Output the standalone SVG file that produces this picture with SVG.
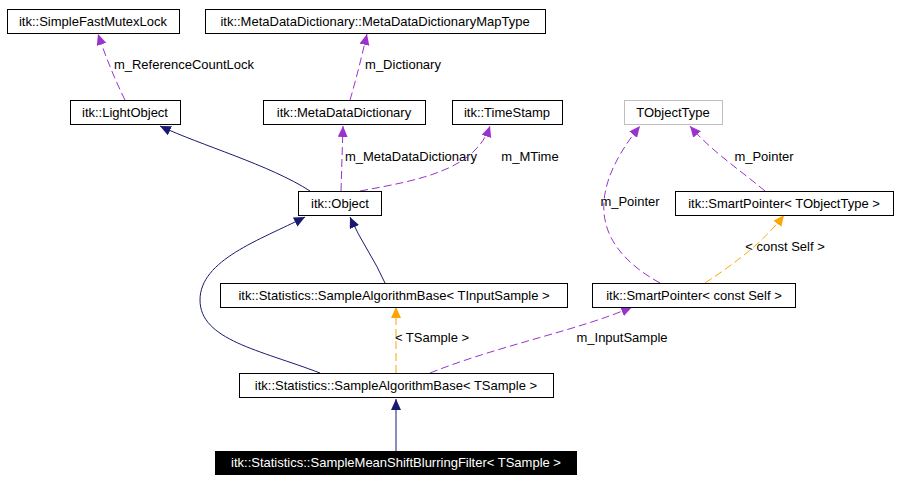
<svg xmlns="http://www.w3.org/2000/svg" width="900" height="482" viewBox="0 0 900 482">
<style>
text{font-family:"Liberation Sans",Arial,sans-serif;font-size:13px;fill:#000}
.n rect{fill:#fff;stroke:#000;stroke-width:1}
.n text{text-anchor:middle}
.e{fill:none;stroke-width:1}
.inh{stroke:#191970}
.use{stroke:#9a32cd;stroke-dasharray:8,4}
.tpl{stroke:#ffa500;stroke-dasharray:8,4}
.lbl{text-anchor:middle}
</style>
<defs>
<marker id="ai" markerWidth="12" markerHeight="12" refX="11" refY="5" orient="auto" markerUnits="userSpaceOnUse"><path d="M0,0 L11,5 L0,10 Z" fill="#191970"/></marker>
<marker id="au" markerWidth="12" markerHeight="12" refX="11" refY="5" orient="auto" markerUnits="userSpaceOnUse"><path d="M0,0 L11,5 L0,10 Z" fill="#9a32cd"/></marker>
<marker id="at" markerWidth="12" markerHeight="12" refX="11" refY="5" orient="auto" markerUnits="userSpaceOnUse"><path d="M0,0 L11,5 L0,10 Z" fill="#ffa500"/></marker>
</defs>
<rect width="900" height="482" fill="#fff"/>
<g id="connectors">
<path class="e use" d="M125,100 C115,80 105,55 98,34" marker-end="url(#au)"/>
<text class="lbl" x="184" y="69">m_ReferenceCountLock</text>
<path class="e use" d="M350,100 C356,80 362,55 367,34" marker-end="url(#au)"/>
<text class="lbl" x="403" y="69">m_Dictionary</text>
<path class="e inh" d="M310,191 C270,165 200,145 160,126" marker-end="url(#ai)"/>
<path class="e use" d="M341,191 L343,126" marker-end="url(#au)"/>
<text class="lbl" x="411" y="161">m_MetaDataDictionary</text>
<path class="e use" d="M360,191 C420,180 475,170 490,126" marker-end="url(#au)"/>
<text class="lbl" x="530" y="161">m_MTime</text>
<path class="e use" d="M765,191 C740,170 710,150 690,126" marker-end="url(#au)"/>
<text class="lbl" x="764" y="161">m_Pointer</text>
<path class="e use" d="M660,283 C600,250 580,200 640,126" marker-end="url(#au)"/>
<text class="lbl" x="630" y="206">m_Pointer</text>
<path class="e tpl" d="M705,283 C740,260 765,240 784,215" marker-end="url(#at)"/>
<text class="lbl" x="785" y="251">&lt; const Self &gt;</text>
<path class="e inh" d="M385,283 C375,260 360,240 350,217" marker-end="url(#ai)"/>
<path class="e inh" d="M320,373 C260,350 200,340 200,300 C200,260 260,240 305,217" marker-end="url(#ai)"/>
<path class="e tpl" d="M396,373 L396,307" marker-end="url(#at)"/>
<text class="lbl" x="432" y="342">&lt; TSample &gt;</text>
<path class="e use" d="M430,373 C500,345 580,330 632,307" marker-end="url(#au)"/>
<text class="lbl" x="622" y="342">m_InputSample</text>
<path class="e inh" d="M396,451 L396,399" marker-end="url(#ai)"/>
</g>
<g id="n1" class="n"><rect x="7.500" y="9.500" width="172" height="24"/><text x="93" y="26">itk::SimpleFastMutexLock</text></g>
<g id="n2" class="n"><rect x="205.500" y="9.500" width="340" height="24"/><text x="375" y="26">itk::MetaDataDictionary::MetaDataDictionaryMapType</text></g>
<g id="n3" class="n"><rect x="70.500" y="100.500" width="110" height="24"/><text x="125" y="117">itk::LightObject</text></g>
<g id="n4" class="n"><rect x="263.500" y="100.500" width="162" height="24"/><text x="344" y="117">itk::MetaDataDictionary</text></g>
<g id="n5" class="n"><rect x="452.500" y="100.500" width="110" height="24"/><text x="507" y="117">itk::TimeStamp</text></g>
<g id="n6" class="n"><rect x="624.500" y="100.500" width="98" height="24" style="stroke:#bfbfbf"/><text x="673" y="117">TObjectType</text></g>
<g id="n7" class="n"><rect x="298.500" y="191.500" width="83" height="24"/><text x="340" y="208">itk::Object</text></g>
<g id="n8" class="n"><rect x="675.500" y="191.500" width="218" height="24"/><text x="784" y="208">itk::SmartPointer&lt; TObjectType &gt;</text></g>
<g id="n9" class="n"><rect x="220.500" y="283.500" width="347" height="24"/><text x="394" y="300">itk::Statistics::SampleAlgorithmBase&lt; TInputSample &gt;</text></g>
<g id="n10" class="n"><rect x="592.500" y="283.500" width="203" height="24"/><text x="694" y="300">itk::SmartPointer&lt; const Self &gt;</text></g>
<g id="n11" class="n"><rect x="239.500" y="373.500" width="314" height="24"/><text x="396" y="390">itk::Statistics::SampleAlgorithmBase&lt; TSample &gt;</text></g>
<g id="n12" class="n"><rect x="215.500" y="451.500" width="361" height="23" style="fill:#000"/><text x="396" y="467" style="fill:#fff">itk::Statistics::SampleMeanShiftBlurringFilter&lt; TSample &gt;</text></g>
</svg>
